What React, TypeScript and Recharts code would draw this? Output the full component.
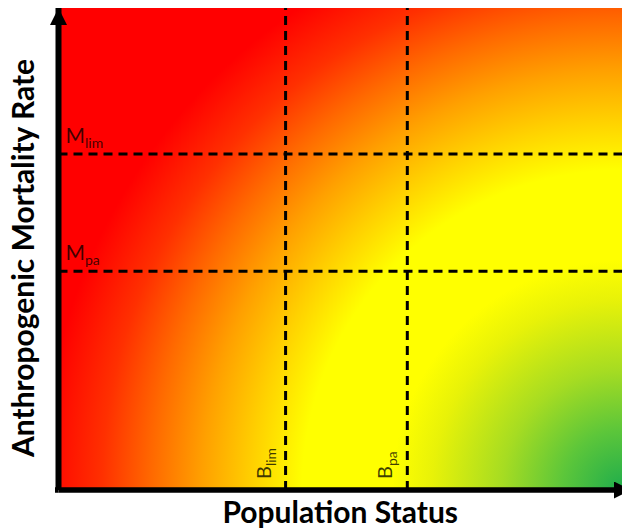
import { ComposedChart, XAxis, YAxis, ReferenceArea, ReferenceLine, Label } from 'recharts'

// axes run 0..100 on both sides (no ticks shown)
const xDomain = [0, 100]
const yDomain = [0, 100]

// biomass reference points (x) and mortality reference points (y)
const bNames = ['lim', 'pa']
const bValues = [40.3, 61.9]
const mNames = ['lim', 'pa']
const mValues = [69.7, 45.4]

const xTitle = 'Population Status'
const yTitle = 'Anthropogenic Mortality Rate'

// colour ramp from the bottom-right corner outwards
const zoneOffsets = [0, 0.1, 0.2, 0.317, 0.383, 0.533, 0.617, 0.7, 0.783, 0.867, 0.967]
const zoneColors = [
  '#1fad4c', '#5cc63a', '#a6dc22', '#e8f208', '#ffff00', '#ffff00',
  '#ffd000', '#ffa000', '#ff6a00', '#ff3000', '#ff0000',
]

const FONT = 'Lato, "Open Sans", sans-serif'

function ZoneShape(props: any) {
  const { x, y, width, height } = props
  return (
    <g>
      <defs>
        <radialGradient
          id="zoneFill"
          gradientUnits="userSpaceOnUse"
          cx={x + width}
          cy={y + height}
          r={width * 1.065}
        >
          {zoneOffsets.map((o, i) => (
            <stop key={i} offset={o} stopColor={zoneColors[i]} />
          ))}
        </radialGradient>
      </defs>
      <rect x={x} y={y} width={width} height={height} fill="url(#zoneFill)" />
    </g>
  )
}

function bLabel(name: string) {
  return (p: any) => {
    const vb = p.viewBox
    const tx = vb.x - 15
    const ty = vb.y + vb.height - 11
    return (
      <text
        x={tx}
        y={ty}
        transform={`rotate(-90 ${tx} ${ty})`}
        fontFamily={FONT}
        fontSize={20}
        fill="#000"
        fillOpacity={0.75}
      >
        B
        <tspan fontSize={14} dy={5}>
          {name}
        </tspan>
      </text>
    )
  }
}

function mLabel(name: string) {
  return (p: any) => {
    const vb = p.viewBox
    return (
      <text x={vb.x + 7} y={vb.y - 11} fontFamily={FONT} fontSize={21} fill="#000" fillOpacity={0.75}>
        M
        <tspan fontSize={14} dy={5}>
          {name}
        </tspan>
      </text>
    )
  }
}

export default function App() {
  return (
    <div style={{ position: 'absolute', left: 0, top: 0, width: 622, height: 529, overflow: 'hidden', background: '#fff' }}>
      <ComposedChart width={622} height={529} margin={{ top: 8, right: 0, bottom: 0, left: 0 }}>
        <defs>
          <marker
            id="arrowHead"
            viewBox="0 0 17 17"
            refX={17}
            refY={8.5}
            markerWidth={17}
            markerHeight={17}
            markerUnits="userSpaceOnUse"
            orient="auto-start-reverse"
          >
            <path d="M0,0 L17,8.5 L0,17 z" fill="#000" />
          </marker>
          <marker
            id="arrowHeadX"
            viewBox="0 0 17 17"
            refX={8}
            refY={8.5}
            markerWidth={17}
            markerHeight={17}
            markerUnits="userSpaceOnUse"
            orient="auto"
          >
            <path d="M0,0 L17,8.5 L0,17 z" fill="#000" />
          </marker>
          <marker
            id="cornerCap"
            viewBox="-3.5 -2.75 3.5 5.5"
            refX={0}
            refY={0}
            markerWidth={3.5}
            markerHeight={5.5}
            markerUnits="userSpaceOnUse"
            orient="auto"
          >
            <rect x={-3.5} y={-2.75} width={3.5} height={5.5} fill="#000" />
          </marker>
        </defs>
        <XAxis
          type="number"
          dataKey="x"
          domain={xDomain}
          allowDataOverflow
          height={39}
          tick={false}
          tickLine={false}
          axisLine={{ stroke: '#000', strokeWidth: 5.5, markerEnd: 'url(#arrowHeadX)', markerStart: 'url(#cornerCap)' }}
        >
          <Label
            content={(p: any) => {
              const vb = p.viewBox
              return (
                <text
                  x={vb.x + vb.width / 2}
                  y={vb.y + 33}
                  textAnchor="middle"
                  fontFamily={FONT}
                  fontWeight={700}
                  fontSize={30}
                  fill="#000"
                >
                  {xTitle}
                </text>
              )
            }}
          />
        </XAxis>
        <YAxis
          type="number"
          dataKey="y"
          domain={yDomain}
          allowDataOverflow
          width={58.5}
          tick={false}
          tickLine={false}
          axisLine={{ stroke: '#000', strokeWidth: 6, markerStart: 'url(#arrowHead)' }}
        >
          <Label
            content={(p: any) => {
              const vb = p.viewBox
              const tx = 34
              const ty = vb.y + vb.height / 2 + 9
              return (
                <text
                  x={tx}
                  y={ty}
                  transform={`rotate(-90 ${tx} ${ty})`}
                  textAnchor="middle"
                  fontFamily={FONT}
                  fontWeight={700}
                  fontSize={30}
                  fill="#000"
                >
                  {yTitle}
                </text>
              )
            }}
          />
        </YAxis>
        <ReferenceArea
          x1={xDomain[0]}
          x2={xDomain[1]}
          y1={yDomain[0]}
          y2={yDomain[1]}
          shape={ZoneShape}
          ifOverflow="visible"
        />
        {bValues.map((v, i) => (
          <ReferenceLine
            key={`b-${bNames[i]}`}
            x={v}
            stroke="#000"
            strokeWidth={3}
            strokeDasharray="9 6"
            label={bLabel(bNames[i])}
          />
        ))}
        {mValues.map((v, i) => (
          <ReferenceLine
            key={`m-${mNames[i]}`}
            y={v}
            stroke="#000"
            strokeWidth={3}
            strokeDasharray="9 6"
            label={mLabel(mNames[i])}
          />
        ))}
      </ComposedChart>
    </div>
  )
}
